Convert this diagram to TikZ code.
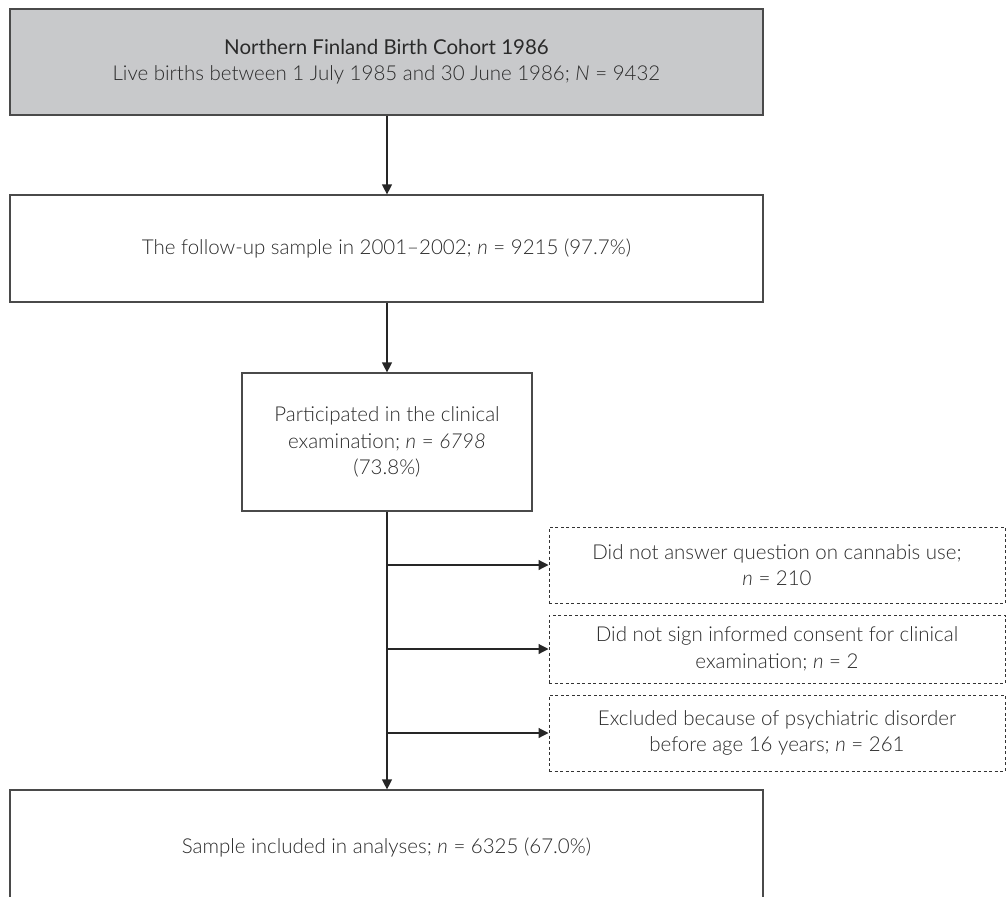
\documentclass[tikz,border=0pt]{standalone}
\usepackage{fontspec}
\IfFontExistsTF{Lato Light}{\setmainfont{Lato Light}}{\setmainfont{Lato}}
\newfontfamily\titlefont{Lato}
\usetikzlibrary{arrows.meta,positioning}
\definecolor{cohortgray}{HTML}{C8C9CB}
\definecolor{edgegray}{HTML}{4A4A4A}
\definecolor{txtgray}{HTML}{2A2A2A}
\newcommand{\nn}{\textit{n}}

\begin{document}
\begin{tikzpicture}[
                    >={Triangle[length=10pt,width=10pt]},
                x=1pt, y=-1pt,
                every node/.style={font=\fontsize{20.5}{26.5}\selectfont, text=txtgray, align=center},
                solidbox/.style={draw=edgegray, line width=1.2pt, inner sep=0pt},
                dashbox/.style={draw=black!80, dashed, dash pattern=on 3pt off 2.5pt, line width=1pt, inner sep=0pt, minimum width=456pt},
                flow/.style={->, draw=black!85, line width=1.2pt}]

                \clip (0,0) rectangle (1007,897);

                \node[solidbox, fill=cohortgray, minimum width=753pt, minimum height=106pt] (A) at (386.5,62)
                    {{\titlefont Northern Finland Birth Cohort 1986}\\Live births between 1 July 1985 and 30 June 1986; \textit{N} = 9432};
                \node[solidbox, minimum width=753pt, minimum height=107pt] (B) at (386.5,248.5)
                    {The follow-up sample in 2001--2002; \nn{} = 9215 (97.7\%)};
                \node[solidbox, minimum width=290pt, minimum height=138pt] (C) at (387,442)
                    {Participated in the clinical\\examination; \nn{} = \textit{6798}\\(73.8\%)};

                \node[dashbox, minimum height=76pt] (D1) at (777,565)
                    {Did not answer question on cannabis use;\\\nn{} = 210};
                \node[dashbox, minimum height=68pt] (D2) at (777,649)
                    {Did not sign informed consent for clinical\\examination; \nn{} = 2};
                \node[dashbox, minimum height=76pt] (D3) at (777,733)
                    {Excluded because of psychiatric disorder\\before age 16 years; \nn{} = 261};

                \node[solidbox, minimum width=753pt, minimum height=114pt] (E) at (386.5,847)
                    {Sample included in analyses; \nn{} = 6325 (67.0\%)};

                \coordinate (J1) at (C.south |- D1.west);
                \coordinate (J2) at (C.south |- D2.west);
                \coordinate (J3) at (C.south |- D3.west);

                \draw[flow] (A.south -| C.north) -- (B.north -| C.north);
                \draw[flow] (B.south -| C.north) -- (C.north);
                \draw[flow] (C.south) -- (E.north -| C.south);
                \draw[flow] (J1) -- (D1.west);
                \draw[flow] (J2) -- (D2.west);
                \draw[flow] (J3) -- (D3.west);

            \end{tikzpicture}
\end{document}
